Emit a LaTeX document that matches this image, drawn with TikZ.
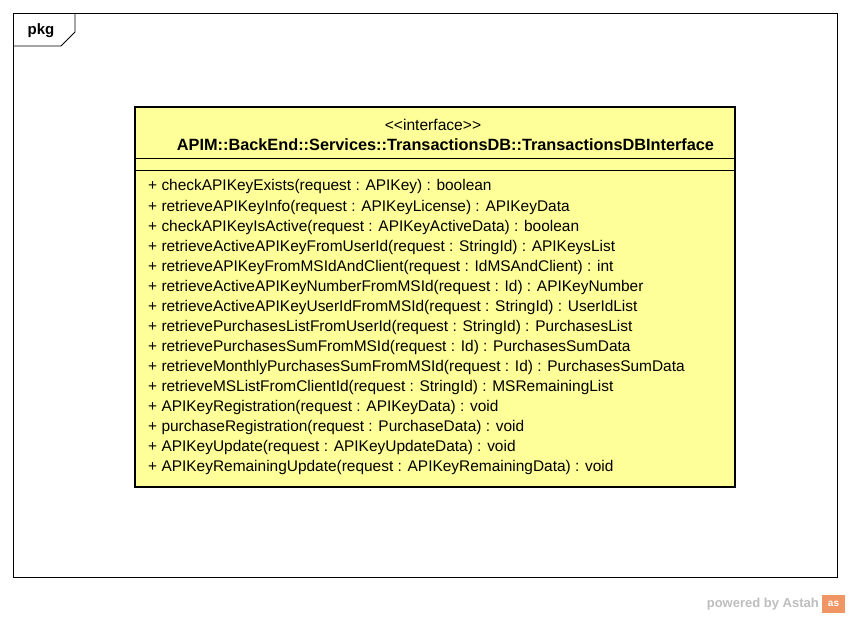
\documentclass[tikz,border=0pt]{standalone}
\usepackage{fontspec}
\setmainfont{Liberation Sans}
\begin{document}
\begin{tikzpicture}[x=1pt,y=-1pt,
  frameline/.style={draw=black,line width=0.8pt},
  classbox/.style={draw=black,line width=2.6pt,fill=classyellow},
  member/.style={anchor=west,inner sep=0pt,font=\fontsize{15.45}{17}\selectfont},
]
\definecolor{classyellow}{RGB}{255,255,153}
\definecolor{astahgray}{RGB}{190,190,190}
\definecolor{astahorange}{RGB}{240,150,100}
\useasboundingbox (0,0) rectangle (850,617);
\fill[white] (0,0) rectangle (850,617);
% package frame
\draw[frameline] (13,13) rectangle (837,577);
\draw[frameline] (13,46) -- (61,46) -- (75,32) -- (75,13);
\node[font=\bfseries\fontsize{15}{17}\selectfont,inner sep=0pt] (pkg) at (41,31) {pkg};
% class box
\draw[classbox] (135,107) rectangle (735,487);
\draw[line width=0.8pt] (135,158) -- (735,158);
\draw[line width=0.8pt] (135,170) -- (735,170);
\node[inner sep=0pt,font=\fontsize{15.6}{17}\selectfont] (stereo) at (433,124.5) {<{}<interface>{}>};
\node[inner sep=0pt,font=\bfseries\fontsize{16.3}{18}\selectfont] (cname) at (445.5,144.5) {APIM::BackEnd::Services::TransactionsDB::TransactionsDBInterface};
\node[member] (m1) at (148,187) {+ checkAPIKeyExists(request : APIKey) : boolean};
\node[member] (m2) at (148,207.1) {+ retrieveAPIKeyInfo(request : APIKeyLicense) : APIKeyData};
\node[member] (m3) at (148,227.1) {+ checkAPIKeyIsActive(request : APIKeyActiveData) : boolean};
\node[member] (m4) at (148,247.2) {+ retrieveActiveAPIKeyFromUserId(request : StringId) : APIKeysList};
\node[member] (m5) at (148,267.3) {+ retrieveAPIKeyFromMSIdAndClient(request : IdMSAndClient) : int};
\node[member] (m6) at (148,287.4) {+ retrieveActiveAPIKeyNumberFromMSId(request : Id) : APIKeyNumber};
\node[member] (m7) at (148,307.4) {+ retrieveActiveAPIKeyUserIdFromMSId(request : StringId) : UserIdList};
\node[member] (m8) at (148,327.5) {+ retrievePurchasesListFromUserId(request : StringId) : PurchasesList};
\node[member] (m9) at (148,347.6) {+ retrievePurchasesSumFromMSId(request : Id) : PurchasesSumData};
\node[member] (m10) at (148,367.6) {+ retrieveMonthlyPurchasesSumFromMSId(request : Id) : PurchasesSumData};
\node[member] (m11) at (148,387.7) {+ retrieveMSListFromClientId(request : StringId) : MSRemainingList};
\node[member] (m12) at (148,407.8) {+ APIKeyRegistration(request : APIKeyData) : void};
\node[member] (m13) at (148,427.8) {+ purchaseRegistration(request : PurchaseData) : void};
\node[member] (m14) at (148,447.9) {+ APIKeyUpdate(request : APIKeyUpdateData) : void};
\node[member] (m15) at (148,468) {+ APIKeyRemainingUpdate(request : APIKeyRemainingData) : void};
% powered by
\node[anchor=east,inner sep=0pt,text=astahgray,font=\bfseries\fontsize{13}{15}\selectfont] (powered) at (819,604) {powered by Astah};
\fill[astahorange] (822,595) rectangle (845,613);
\node[inner sep=0pt,text=white,font=\bfseries\fontsize{10}{10}\selectfont] (logo) at (833.5,604) {as};
\end{tikzpicture}
\end{document}
